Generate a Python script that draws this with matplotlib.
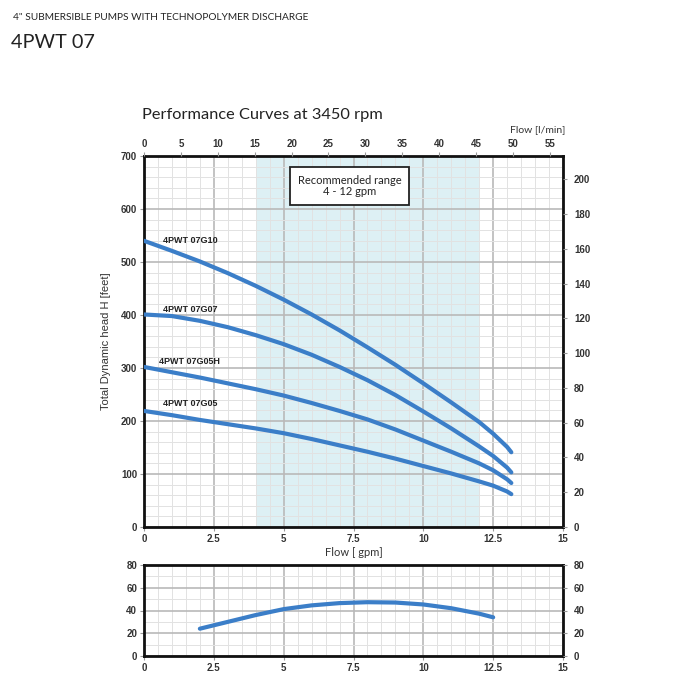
import matplotlib
matplotlib.use("Agg")
import matplotlib.pyplot as plt
import numpy as np

# ---- data ----
flow_gpm = [0, 1, 2, 3, 4, 5, 6, 7, 8, 9, 10, 11, 12, 12.5, 13, 13.15]
head_g10 = [540, 521, 501, 479, 455, 429, 401, 371, 339, 306, 271, 235, 198, 176, 151, 141]
head_g07 = [401, 398, 389, 377, 362, 345, 325, 302, 277, 249, 218, 186, 152, 134, 112, 103]
head_g05h = [302, 292, 282, 271, 260, 248, 234, 219, 203, 184, 163, 142, 120, 107, 90, 83]
head_g05 = [219, 211, 202, 194, 186, 177, 166, 154, 142, 129, 115, 101, 86, 78, 67, 62]
curve_names = ["4PWT 07G10", "4PWT 07G07", "4PWT 07G05H", "4PWT 07G05"]

eff_flow = [2, 3, 4, 5, 6, 7, 8, 9, 10, 11, 12, 12.5]
eff_vals = [24, 30, 36, 41.2, 44.5, 46.5, 47.3, 47, 45.3, 42, 37.2, 34]

rec_range = [4, 12]
gpm_ticks = [0, 2.5, 5, 7.5, 10, 12.5, 15]
gpm_tick_labels = ["0", "2.5", "5", "7.5", "10", "12.5", "15"]
lmin_ticks = [0, 5, 10, 15, 20, 25, 30, 35, 40, 45, 50, 55]
ft_ticks = [0, 100, 200, 300, 400, 500, 600, 700]
m_ticks = [0, 20, 40, 60, 80, 100, 120, 140, 160, 180, 200]
eff_ticks = [0, 20, 40, 60, 80]

GPM_TO_LMIN = 3.78541
FT_TO_M = 0.3048

blue = "#3b7ec8"
shade = "#ddf0f4"
major_c = "#b9b9b9"
minor_c = "#e2e2e2"
tickfont = "Liberation Sans"
tc = "#333333"

fig = plt.figure(figsize=(7, 7), dpi=100)
fig.patch.set_facecolor("white")

fig.text(13/700, 1-18/700, "4\" SUBMERSIBLE PUMPS WITH TECHNOPOLYMER DISCHARGE",
         fontsize=7.3, family="Lato", color="#222222", va="center", ha="left")
fig.text(11/700, 1-42/700, "4PWT 07", fontsize=14.3, family="Lato", color="#222222",
         va="center", ha="left")

# ---- main axes ----
ax = fig.add_axes([144/700, 1-527/700, 419/700, 371/700])
ax.set_xlim(0, 15)
ax.set_ylim(0, 700)
ax.axvspan(rec_range[0], rec_range[1], color=shade, zorder=0, lw=0)
ax.set_xticks(np.arange(0, 15.01, 0.5), minor=True)
ax.set_yticks(np.arange(0, 700.1, 20), minor=True)
ax.set_xticks(gpm_ticks)
ax.set_xticklabels(gpm_tick_labels)
ax.set_yticks(ft_ticks)
ax.grid(which="minor", color=minor_c, lw=0.7, zorder=1)
ax.grid(which="major", color=major_c, lw=1.2, zorder=1)
ax.set_axisbelow(True)
ax.tick_params(which="minor", length=0)
ax.tick_params(which="major", length=3, color="#999999", labelsize=7, labelcolor=tc, pad=2)
for lab in ax.get_xticklabels() + ax.get_yticklabels():
    lab.set_family(tickfont)
    lab.set_fontweight("bold")
for s in ax.spines.values():
    s.set_linewidth(2)
    s.set_color("#111111")

for h in [head_g10, head_g07, head_g05h, head_g05]:
    ax.plot(flow_gpm, h, color=blue, lw=3, solid_capstyle="round",
            solid_joinstyle="round", zorder=3)

label_pos = [(0.68, 541), (0.68, 411), (0.55, 313), (0.68, 233)]
for name, (lx, ly) in zip(curve_names, label_pos):
    ax.text(lx, ly, name, fontsize=6.5, fontweight="bold", family=tickfont,
            color="#222222", va="center", ha="left", zorder=4)

ax.text(7.36, 643, "Recommended range\n4 - 12 gpm", fontsize=8, family="Lato",
        ha="center", va="center", color="#222222", linespacing=1.0, zorder=5,
        bbox=dict(boxstyle="square,pad=0.7", fc="white", ec="#222222", lw=1.3))

ax.set_xlabel("Flow [ gpm]", fontsize=8, family="Lato", color="#333333", labelpad=2)
ax.set_ylabel("Total Dynamic head H [feet]", fontsize=8, family="Liberation Sans",
              color="#333333", labelpad=7)

# top axis (l/min)
axt = ax.twiny()
axt.set_xlim(0, 15 * GPM_TO_LMIN)
axt.set_xticks(lmin_ticks)
axt.tick_params(length=3, color="#999999", labelsize=7, labelcolor=tc, pad=2)
for lab in axt.get_xticklabels():
    lab.set_family(tickfont)
    lab.set_fontweight("bold")
for s in axt.spines.values():
    s.set_visible(False)
fig.text(565/700, 1-130/700, "Flow [l/min]", fontsize=7.5, family="Lato",
         color="#333333", ha="right", va="center")

# right axis (m)
axr = ax.twinx()
axr.set_ylim(0, 700 * FT_TO_M)
axr.set_yticks(m_ticks)
axr.tick_params(length=3, color="#999999", labelsize=7, labelcolor=tc, pad=5)
for lab in axr.get_yticklabels():
    lab.set_family(tickfont)
    lab.set_fontweight("bold")
for s in axr.spines.values():
    s.set_visible(False)

fig.text(142/700, 1-115/700, "Performance Curves at 3450 rpm", fontsize=11.8,
         family="Lato", color="#222222", ha="left", va="center")

# ---- efficiency axes ----
ax2 = fig.add_axes([144/700, 1-656/700, 419/700, 91/700])
ax2.set_xlim(0, 15)
ax2.set_ylim(0, 80)
ax2.set_xticks(np.arange(0, 15.01, 0.5), minor=True)
ax2.set_yticks(np.arange(0, 80.1, 10), minor=True)
ax2.set_xticks(gpm_ticks)
ax2.set_xticklabels(gpm_tick_labels)
ax2.set_yticks(eff_ticks)
ax2.grid(which="minor", color=minor_c, lw=0.7)
ax2.grid(which="major", color=major_c, lw=1.2)
ax2.set_axisbelow(True)
ax2.tick_params(which="minor", length=0)
ax2.tick_params(which="major", length=3, color="#999999", labelsize=7, labelcolor=tc, pad=2)
for lab in ax2.get_xticklabels() + ax2.get_yticklabels():
    lab.set_family(tickfont)
    lab.set_fontweight("bold")
for s in ax2.spines.values():
    s.set_linewidth(2)
    s.set_color("#111111")
ax2.plot(eff_flow, eff_vals, color=blue, lw=3, solid_capstyle="round",
         solid_joinstyle="round", zorder=3)

ax2r = ax2.twinx()
ax2r.set_ylim(0, 80)
ax2r.set_yticks(eff_ticks)
ax2r.tick_params(length=3, color="#999999", labelsize=7, labelcolor=tc, pad=5)
for lab in ax2r.get_yticklabels():
    lab.set_family(tickfont)
    lab.set_fontweight("bold")
for s in ax2r.spines.values():
    s.set_visible(False)

fig.savefig("out.png", dpi=100, facecolor="white")
